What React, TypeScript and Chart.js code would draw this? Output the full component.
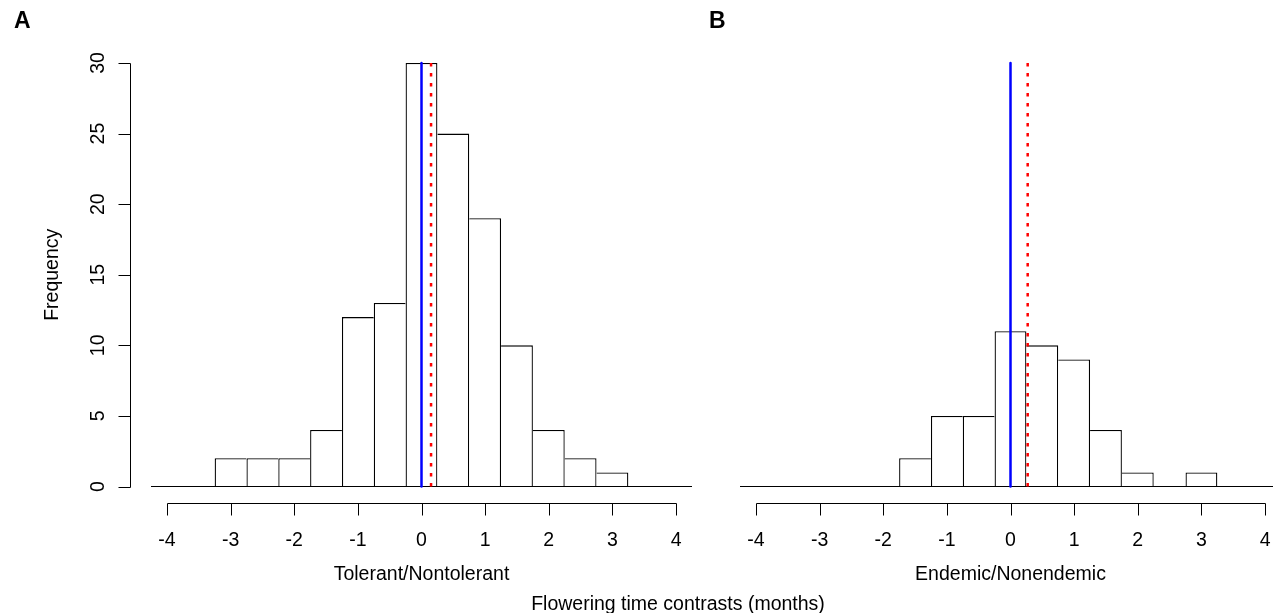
import React, { useEffect, useRef } from "react";
import { Chart, registerables } from "chart.js";

Chart.register(...registerables);

// ---- data ----
const binCenters = [-4, -3.5, -3, -2.5, -2, -1.5, -1, -0.5, 0, 0.5, 1, 1.5, 2, 2.5, 3, 3.5, 4];
const countsTolerant = [0, 0, 2, 2, 2, 4, 12, 13, 30, 25, 19, 10, 4, 2, 1, 0, 0];
const countsEndemic = [0, 0, 0, 0, 0, 2, 5, 5, 11, 10, 9, 4, 1, 0, 1, 0, 0];
const solidLineTolerant = 0;
const dottedLineTolerant = 0.15;
const solidLineEndemic = 0;
const dottedLineEndemic = 0.27;
const xTicks = [-4, -3, -2, -1, 0, 1, 2, 3, 4];
const yTicks = [0, 5, 10, 15, 20, 25, 30];

const FONT = '"Liberation Sans", Arial, Helvetica, sans-serif';
const FS = 19.5;
const BW = 1.3;

type PanelCfg = {
  counts: number[];
  solid: number;
  dotted: number;
  xTitle: string;
  letter: string;
  letterX: number;
  showY: boolean;
  padLeft: number;
  padRight: number;
  width: number;
  outerTitle?: string;
};

function rAxisPlugin(cfg: PanelCfg) {
  return {
    id: "rAxis",
    afterDraw(chart: any) {
      const ctx = chart.ctx as CanvasRenderingContext2D;
      const xs = chart.scales.x;
      const ys = chart.scales.y;
      const ca = chart.chartArea;
      ctx.save();
      ctx.strokeStyle = "#000";
      ctx.fillStyle = "#000";
      ctx.lineWidth = 1;
      ctx.font = `${FS}px ${FONT}`;

      // x axis (R style, detached)
      const axisY = Math.round(ys.getPixelForValue(0) + 16) + 0.5;
      ctx.beginPath();
      ctx.moveTo(Math.round(xs.getPixelForValue(xTicks[0])) + 0.5, axisY);
      ctx.lineTo(Math.round(xs.getPixelForValue(xTicks[xTicks.length - 1])) + 0.5, axisY);
      for (const t of xTicks) {
        const px = Math.round(xs.getPixelForValue(t)) + 0.5;
        ctx.moveTo(px, axisY);
        ctx.lineTo(px, axisY + 12);
      }
      ctx.stroke();
      ctx.textAlign = "center";
      ctx.textBaseline = "alphabetic";
      for (const t of xTicks) {
        ctx.fillText(String(t), xs.getPixelForValue(t), axisY + 42.5);
      }
      ctx.fillText(cfg.xTitle, (ca.left + ca.right) / 2, axisY + 76.5);

      // y axis
      if (cfg.showY) {
        const axisX = Math.round(ca.left - 21) + 0.5;
        ctx.beginPath();
        ctx.moveTo(axisX, Math.round(ys.getPixelForValue(yTicks[0])) + 0.5);
        ctx.lineTo(axisX, Math.round(ys.getPixelForValue(yTicks[yTicks.length - 1])) + 0.5);
        for (const t of yTicks) {
          const py = Math.round(ys.getPixelForValue(t)) + 0.5;
          ctx.moveTo(axisX, py);
          ctx.lineTo(axisX - 12, py);
        }
        ctx.stroke();
        for (const t of yTicks) {
          ctx.save();
          ctx.translate(axisX - 26.5, ys.getPixelForValue(t));
          ctx.rotate(-Math.PI / 2);
          ctx.textAlign = "center";
          ctx.fillText(String(t), 0, 0);
          ctx.restore();
        }
        ctx.save();
        ctx.translate(58, (ca.top + ca.bottom) / 2);
        ctx.rotate(-Math.PI / 2);
        ctx.textAlign = "center";
        ctx.fillText("Frequency", 0, 0);
        ctx.restore();
      }

      if (cfg.outerTitle) {
        ctx.textAlign = "center";
        ctx.fillText(cfg.outerTitle, 678, 610);
      }

      // panel letter
      ctx.font = `bold 23px ${FONT}`;
      ctx.textAlign = "left";
      ctx.fillText(cfg.letter, cfg.letterX, 28);
      ctx.restore();
    },
  };
}

function buildChart(canvas: HTMLCanvasElement, cfg: PanelCfg) {
  const binW = binCenters[1] - binCenters[0];
  const lo = binCenters[0] - binW / 2;
  const hi = binCenters[binCenters.length - 1] + binW / 2;
  const yMax = yTicks[yTicks.length - 1];
  const counts = cfg.counts;

  canvas.width = cfg.width;
  canvas.height = 613;
  canvas.style.width = cfg.width + "px";
  canvas.style.height = "613px";

  return new Chart(canvas, {
    type: "bar",
    data: {
      datasets: [
        {
          type: "bar",
          data: binCenters.map((c, i) => ({ x: c, y: counts[i] })),
          backgroundColor: "#ffffff",
          borderColor: "#000000",
          borderSkipped: false,
          inflateAmount: 0,
          barPercentage: 1,
          categoryPercentage: 1,
          borderWidth: (ctx: any) => {
            if (ctx.type !== "data") return 1;
            const i = ctx.dataIndex;
            const c = counts[i];
            if (!c) return 0;
            const prev = i > 0 ? counts[i - 1] : 0;
            const next = i < counts.length - 1 ? counts[i + 1] : 0;
            return { top: BW, bottom: 0, left: c >= prev ? BW : 0, right: c > next ? BW : 0 };
          },
          order: 3,
          clip: false,
        } as any,
        {
          type: "line",
          data: [
            { x: lo, y: 0 },
            { x: hi, y: 0 },
          ],
          borderColor: "#000000",
          borderWidth: 1.2,
          pointRadius: 0,
          order: 2,
          clip: false,
        } as any,
        {
          type: "line",
          data: [
            { x: cfg.solid, y: 0 },
            { x: cfg.solid, y: yMax },
          ],
          borderColor: "#0000ff",
          borderWidth: 2.5,
          borderCapStyle: "round",
          pointRadius: 0,
          order: 1,
          clip: false,
        } as any,
        {
          type: "line",
          data: [
            { x: cfg.dotted, y: 0 },
            { x: cfg.dotted, y: yMax },
          ],
          borderColor: "#ff0000",
          borderWidth: 2.5,
          borderDash: [3.5, 6.5],
          pointRadius: 0,
          order: 0,
          clip: false,
        } as any,
      ],
    },
    options: {
      responsive: false,
      animation: false,
      devicePixelRatio: 1,
      events: [],
      layout: { padding: { left: cfg.padLeft, right: cfg.padRight, top: 63, bottom: 126.5 } },
      plugins: { legend: { display: false }, tooltip: { enabled: false }, title: { display: false } },
      scales: {
        x: { type: "linear", min: lo, max: hi, offset: false, display: false },
        y: { type: "linear", min: 0, max: yMax, display: false },
      },
    } as any,
    plugins: [rAxisPlugin(cfg) as any],
  });
}

export default function App() {
  const refA = useRef<HTMLCanvasElement>(null);
  const refB = useRef<HTMLCanvasElement>(null);

  useEffect(() => {
    const a = buildChart(refA.current!, {
      counts: countsTolerant,
      solid: solidLineTolerant,
      dotted: dottedLineTolerant,
      xTitle: "Tolerant/Nontolerant",
      letter: "A",
      letterX: 14,
      showY: true,
      padLeft: 151,
      padRight: 1273 - 692,
      width: 1273,
      outerTitle: "Flowering time contrasts (months)",
    });
    const b = buildChart(refB.current!, {
      counts: countsEndemic,
      solid: solidLineEndemic,
      dotted: dottedLineEndemic,
      xTitle: "Endemic/Nonendemic",
      letter: "B",
      letterX: 709,
      showY: false,
      padLeft: 740,
      padRight: 19,
      width: 1300,
    });
    return () => {
      a.destroy();
      b.destroy();
    };
  }, []);

  return (
    <div
      style={{
        position: "absolute",
        left: 0,
        top: 0,
        width: 1273,
        height: 613,
        overflow: "hidden",
        background: "#ffffff",
      }}
    >
      <canvas ref={refA} style={{ position: "absolute", left: 0, top: 0 }} />
      <canvas ref={refB} style={{ position: "absolute", left: 0, top: 0 }} />
    </div>
  );
}
